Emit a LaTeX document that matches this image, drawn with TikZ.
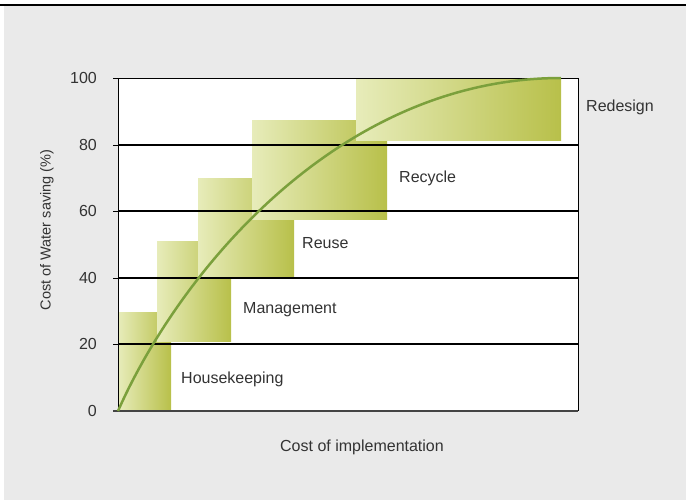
\documentclass[tikz,border=0pt]{standalone}
\usepackage{fontspec}
\setmainfont{Liberation Sans}
\definecolor{bggray}{HTML}{EAEAEA}
\definecolor{glight}{HTML}{E7ECBA}
\definecolor{gdark}{HTML}{B8C04A}
\definecolor{curvegreen}{HTML}{7BA03C}
\definecolor{txt}{HTML}{333333}
\definecolor{axisgray}{HTML}{444444}
\tikzset{
  blockfill/.style={left color=glight,right color=gdark},
  gridline/.style={black,line width=1.2pt},
  frameline/.style={black,line width=1pt},
  tickline/.style={black,line width=1pt},
  lbl/.style={text=txt,font=\fontsize{16}{19}\selectfont,inner sep=0pt},
  ticklbl/.style={lbl,anchor=east},
  curvestyle/.style={curvegreen,line width=2.5pt}
}
\begin{document}
\begin{tikzpicture}[x=1pt,y=-1pt]
\useasboundingbox (0,0) rectangle (686,501);
\fill[white] (0,0) rectangle (686,501);
\fill[bggray] (4,6) rectangle (686,500);
\draw[line width=2pt] (0,5) -- (686,5);
\fill[white] (118,78) rectangle (578,411);
% blocks
\fill[blockfill] (118,312) rectangle (171,411);
\fill[blockfill] (157,241) rectangle (231,341);
\fill[blockfill] (198,178) rectangle (294,277);
\fill[blockfill] (252,120) rectangle (387,219);
\fill[blockfill] (356,78) rectangle (561,140);
% grid
\foreach \yy in {145,211,278,344} {
  \draw[gridline] (118,\yy) -- (578,\yy);
}
\foreach \yy in {78,145,211,278,344,411} {
  \draw[tickline] (113,\yy) -- (118,\yy);
}
\draw[frameline] (118,78) -- (578,78) -- (578,411);
\draw[frameline] (118,78) -- (118,411);
\draw[axisgray,line width=2pt] (113,411) -- (578,411);
% curve
\draw[curvestyle] (118,411) .. controls (180,271) and (339.5,78) .. (561,78);
% tick labels
\node[ticklbl] (t100) at (97,78) {100};
\node[ticklbl] (t80) at (97,145) {80};
\node[ticklbl] (t60) at (97,211) {60};
\node[ticklbl] (t40) at (97,278) {40};
\node[ticklbl] (t20) at (97,344) {20};
\node[ticklbl] (t0) at (97,411) {0};
% labels
\node[lbl,anchor=west] (hk) at (181,379) {Housekeeping};
\node[lbl,anchor=west] (mg) at (243,310) {Management};
\node[lbl,anchor=west] (ru) at (302,243) {Reuse};
\node[lbl,anchor=west] (rc) at (399,178) {Recycle};
\node[lbl,anchor=west] (rd) at (586,107) {Redesign};
\node[lbl] (xl) at (362,447) {Cost of implementation};
\node[lbl,rotate=90,font=\fontsize{14.5}{17}\selectfont] (yl) at (47,230) {Cost of Water saving (\%)};
\end{tikzpicture}
\end{document}
